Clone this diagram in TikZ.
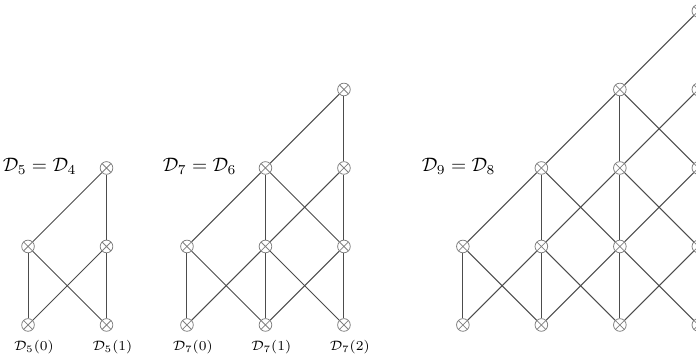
\documentclass[tikz,border=0pt]{standalone}
\usepackage{amsmath}
\usetikzlibrary{positioning}
\tikzset{
	gate/.style={circle,draw=gray,minimum size=6.5pt,inner sep=0pt,
		path picture={\draw[gray] (path picture bounding box.north west) -- (path picture bounding box.south east)
			(path picture bounding box.north east) -- (path picture bounding box.south west);}},
	wire/.style={black!70,line width=.5pt},
	title/.style={anchor=east,inner sep=0pt},
	tag/.style={font=\scriptsize,inner sep=1pt,xshift=3pt}
}
\begin{document}
	\begin{tikzpicture}[x=1.416cm,y=1.416cm]
		\useasboundingbox (-0.357,-0.408) rectangle (8.51,4.14);
		\foreach \d/\n/\xo in {5/1/0,7/2/2.025,9/3/5.54}{
			\pgfmathtruncatemacro\top{\n+1}
			\foreach \c in {0,...,\n}
				\node[gate] (d\d-0-\c) at (\xo+\c,0) {};
			\foreach \r in {1,...,\top}{
				\pgfmathtruncatemacro\lo{max(0,\r-1)}
				\foreach \c in {\lo,...,\n}
					\node[gate] (d\d-\r-\c) at (\xo+\c,\r) {};}
			% edges between rows
			\foreach \r in {0,...,\n}{
				\pgfmathtruncatemacro\s{\r+1}
				\pgfmathtruncatemacro\lo{max(0,\r-1)}
				\foreach \u in {\r,...,\n}{
					\foreach \v in {-1,0,1}{
						\pgfmathtruncatemacro\c{\u+\v}
						\ifnum\c<\lo\else\ifnum\c>\n\else
							\draw[wire] (d\d-\r-\c) -- (d\d-\s-\u);
						\fi\fi}}}
		}
		
		\node[title] (t5) at (0.62,2.02) {$\mathcal{D}_5=\mathcal{D}_4$};
		\node[title] (t7) at (2.66,2.02) {$\mathcal{D}_7=\mathcal{D}_6$};
		\node[title] (t9) at (5.96,2.02) {$\mathcal{D}_9=\mathcal{D}_8$};
		
		\foreach \c in {0,1}
			\node[tag,below=3pt of d5-0-\c] (l5-\c) {$\mathcal{D}_5(\c)$};
		\foreach \c in {0,1,2}
			\node[tag,below=3pt of d7-0-\c] (l7-\c) {$\mathcal{D}_7(\c)$};
		
	\end{tikzpicture}
\end{document}
